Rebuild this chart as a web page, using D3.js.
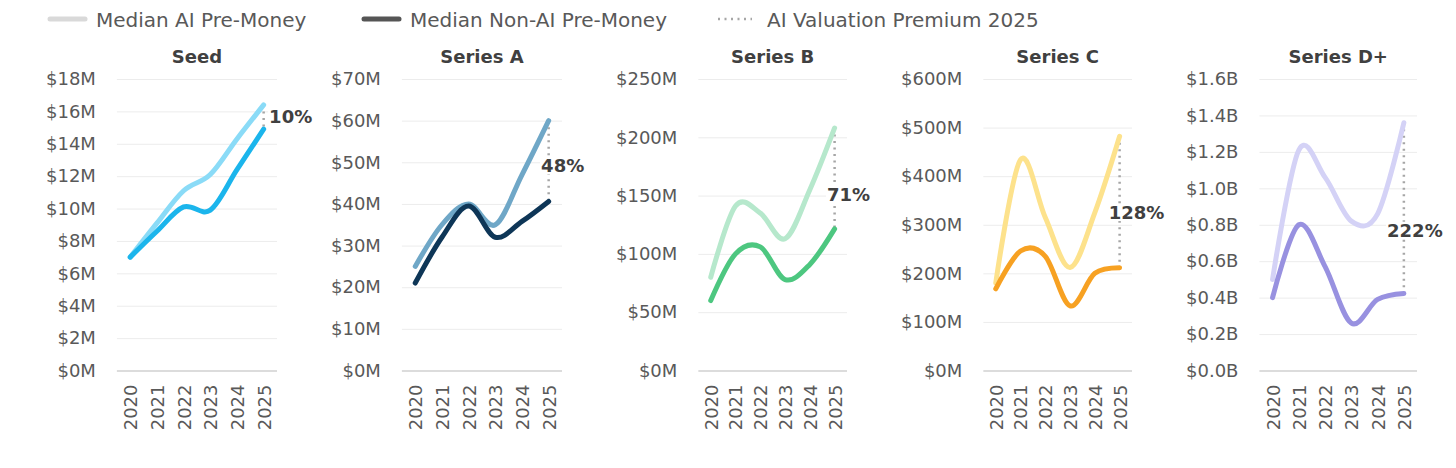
<!DOCTYPE html>
<html><head><meta charset="utf-8">
<script src="https://cdn.jsdelivr.net/npm/d3@7"></script>
<style>
html,body{margin:0;padding:0;background:#fff;}
svg{display:block;}
</style></head>
<body>
<svg id="chart" width="1456" height="468"></svg>
<script>
// ---------- DATA ----------
const years = ["2020","2021","2022","2023","2024","2025"];
const stages = ["Seed","Series A","Series B","Series C","Series D+"];
const units = ["M","M","M","M","B"];
const seedAI    = [7.0, 9.1, 11.1, 12.1, 14.3, 16.4];
const seedNonAI = [7.0, 8.6, 10.1, 9.9, 12.4, 14.9];
const aAI       = [25, 35, 40, 35, 47, 60];
const aNonAI    = [21, 32, 39.5, 32, 35.8, 40.6];
const bAI       = [80, 141, 135, 113, 155, 208];
const bNonAI    = [60, 100, 106, 78, 91, 121.5];
const cAI       = [180, 434, 315, 212, 325, 482];
const cNonAI    = [168, 246, 235, 133, 200, 211.5];
const dAI       = [0.5, 1.21, 1.06, 0.82, 0.86, 1.36];
const dNonAI    = [0.4, 0.8, 0.57, 0.26, 0.39, 0.423];
const premiumLabels = ["10%","48%","71%","128%","222%"];
const yMax  = [18, 70, 250, 600, 1.6];
const yStep = [2, 10, 50, 100, 0.2];
const legendLabels = ["Median AI Pre-Money","Median Non-AI Pre-Money","AI Valuation Premium 2025"];

const aiSeries = [seedAI, aAI, bAI, cAI, dAI];
const nonAISeries = [seedNonAI, aNonAI, bNonAI, cNonAI, dNonAI];

// ---------- STYLE / LAYOUT ----------
const aiColors    = ["#8adbf7","#6fa7c7","#b6e8cc","#fde28c","#d4d2f6"];
const nonAIColors = ["#1bb5ec","#0e3657","#4dc780","#f7a122","#9891e0"];
const labelDx   = [27, 14, 14, 17, 11];
const labelFrac = [0.48, 0.56, 0.66, 0.58, 0.63];
const FONT = "'DejaVu Sans', sans-serif";

const svg = d3.select("#chart");
const plotTop = 79, plotBottom = 370.5;

// legend
const legendX = [96, 410, 767];
const leg = svg.append("g");
legendLabels.forEach((t,i)=>{
  const x = legendX[i];
  if(i<2){
    leg.append("line").attr("x1",x-46).attr("x2",x-11).attr("y1",19).attr("y2",19)
      .attr("stroke", i===0?"#d9d9d9":"#555555").attr("stroke-width",5).attr("stroke-linecap","round");
  } else {
    leg.append("line").attr("x1",x-49).attr("x2",x-15).attr("y1",19).attr("y2",19)
      .attr("stroke","#a6a6a6").attr("stroke-width",2.5).attr("stroke-dasharray","2 4.5");
  }
  leg.append("text").attr("x",x).attr("y",27).text(t)
    .attr("font-family",FONT).attr("font-size",20).attr("fill","#595959");
});

stages.forEach((stage,i)=>{
  const g = svg.append("g");
  const labelLeft = 46 + 285*i;
  const plotRight = 277 + 285*i;
  const ticks = d3.range(0, yMax[i] + yStep[i]/2, yStep[i]);
  const fmt = units[i]==="B" ? (v=>"$"+v.toFixed(1)+"B") : (v=>"$"+Math.round(v)+"M");

  // measure tick label widths
  const tmp = g.append("g").attr("font-family",FONT).attr("font-size",18);
  let maxW = 0;
  ticks.forEach(v=>{ const t = tmp.append("text").text(fmt(v)); maxW = Math.max(maxW, t.node().getComputedTextLength()); });
  tmp.remove();
  const plotLeft = labelLeft + maxW + 21;

  const x = d3.scalePoint().domain(years).range([plotLeft, plotRight]).padding(0.5);
  const y = d3.scaleLinear().domain([0, yMax[i]]).range([plotBottom, plotTop]);

  // y axis (gridlines + labels)
  const yAxis = d3.axisLeft(y).tickValues(ticks).tickFormat(fmt).tickSize(-(plotRight-plotLeft)).tickPadding(21);
  const ya = g.append("g").attr("transform",`translate(${plotLeft},0)`).call(yAxis);
  ya.select(".domain").remove();
  ya.selectAll(".tick line").attr("stroke",(d)=> d===0 ? "#d0d0d0" : "#ececec").attr("stroke-width",(d)=>d===0?1.5:1);
  ya.selectAll(".tick text").attr("font-family",FONT).attr("font-size",18).attr("fill","#595959");

  // x axis labels
  const xAxis = d3.axisBottom(x).tickSize(0).tickPadding(0);
  const xa = g.append("g").attr("transform",`translate(0,${plotBottom})`).call(xAxis);
  xa.select(".domain").remove();
  xa.selectAll(".tick text").attr("font-family",FONT).attr("font-size",18).attr("fill","#595959")
    .attr("text-anchor","end").attr("transform","rotate(-90)").attr("x",-14).attr("y",0).attr("dy","0.36em");

  // title
  g.append("text").attr("x",(plotLeft+plotRight)/2).attr("y",63).attr("text-anchor","middle")
    .attr("font-family",FONT).attr("font-weight","bold").attr("font-size",18).attr("fill","#404040").text(stage);

  const line = d3.line().x((d,j)=>x(years[j])).y(d=>y(d)).curve(d3.curveCatmullRom.alpha(0));

  // dotted premium line
  const xe = x(years[5]);
  const yA = y(aiSeries[i][5]), yN = y(nonAISeries[i][5]);
  g.append("line").attr("x1",xe).attr("x2",xe).attr("y1",yA).attr("y2",yN)
    .attr("stroke","#a6a6a6").attr("stroke-width",2.5).attr("stroke-dasharray","2 4.5");

  g.append("path").datum(aiSeries[i]).attr("d",line).attr("fill","none")
    .attr("stroke",aiColors[i]).attr("stroke-width",5).attr("stroke-linecap","round").attr("stroke-linejoin","round");
  g.append("path").datum(nonAISeries[i]).attr("d",line).attr("fill","none")
    .attr("stroke",nonAIColors[i]).attr("stroke-width",5).attr("stroke-linecap","round").attr("stroke-linejoin","round");

  // premium label with white background
  const ly = yA + (yN - yA)*labelFrac[i];
  const lg = g.append("g");
  const bg = lg.append("rect").attr("fill","#fff");
  const lt = lg.append("text").attr("x",xe+labelDx[i]).attr("y",ly).attr("dy","0.36em").attr("text-anchor","middle")
    .attr("font-family",FONT).attr("font-weight","bold").attr("font-size",18).attr("fill","#404040").text(premiumLabels[i]);
  const bb = lt.node().getBBox();
  bg.attr("x",bb.x-1).attr("y",bb.y+2).attr("width",bb.width+2).attr("height",bb.height-4);
});
</script>
</body></html>
